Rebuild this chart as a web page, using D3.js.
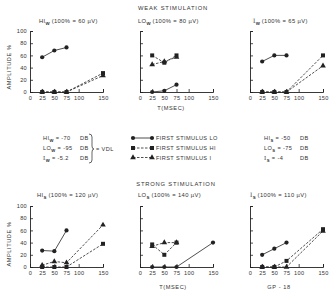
<!DOCTYPE html>
<html>
<head>
<meta charset="utf-8">
<script src="https://cdn.jsdelivr.net/npm/d3@7"></script>
<style>
  body { margin: 0; background: #fff; }
  text { font-family: "Liberation Sans", Arial, sans-serif; fill: #333; }
</style>
</head>
<body>
<div id="chart"></div>
<script>
// times (msec) at which the second stimulus was given
const times = [25, 50, 75, 150];
const xTicks = [0, 25, 50, 75, 100, 150];
const yTicks = [0, 20, 40, 60, 80, 100];

// amplitude % per panel; lo = first stimulus LO, hi = first stimulus HI, iv = first stimulus I
const hiW_lo = [57, 68, 73, null];
const hiW_hi = [0, 0, 0, 31];
const hiW_iv = [0, 0, 0, 27];

const loW_lo = [0, 2, 12, null];
const loW_hi = [60, 48, 60, null];
const loW_iv = [45, 50, 57, null];

const iW_lo = [50, 60, 60, null];
const iW_hi = [0, 0, 0, 60];
const iW_iv = [0, 0, 0, 43];

const hiS_lo = [27, 26, 60, null];
const hiS_hi = [0, 0, 0, 38];
const hiS_iv = [3, 9, 7, 69];

const loS_lo = [0, 0, 0, 40];
const loS_hi = [37, 20, 40, null];
const loS_iv = [34, 40, 40, null];

const iS_lo = [20, 30, 40, null];
const iS_hi = [0, 0, 10, 62];
const iS_iv = [0, 0, 0, 59];

const vdlNames = ["HI", "LO", "I"];
const weakDb = ["-70", "-95", "-5.2"];
const strongDb = ["-50", "-75", "-4"];
const legendLabels = ["FIRST STIMULUS LO", "FIRST STIMULUS HI", "FIRST STIMULUS I"];

const panels = [
  { name: "HI", sub: "W", full: "(100% = 60 \u00b5V)", col: 0, row: 0, tx: 39, lo: hiW_lo, hi: hiW_hi, iv: hiW_iv, yLab: true },
  { name: "LO", sub: "W", full: "(100% = 80 \u00b5V)", col: 1, row: 0, tx: 138, lo: loW_lo, hi: loW_hi, iv: loW_iv },
  { name: "I", sub: "W", full: "(100% = 65 \u00b5V)", col: 2, row: 0, tx: 253, lo: iW_lo, hi: iW_hi, iv: iW_iv },
  { name: "HI", sub: "S", full: "(100% = 120 \u00b5V)", col: 0, row: 1, tx: 37, lo: hiS_lo, hi: hiS_hi, iv: hiS_iv, yLab: true },
  { name: "LO", sub: "S", full: "(100% = 140 \u00b5V)", col: 1, row: 1, tx: 138, lo: loS_lo, hi: loS_hi, iv: loS_iv },
  { name: "I", sub: "S", full: "(100% = 110 \u00b5V)", col: 2, row: 1, tx: 250, lo: iS_lo, hi: iS_hi, iv: iS_iv }
];

const W = 334, H = 293;
const colX = [30, 140, 250];
const rowBase = [92, 267];
const plotW = 73, plotH = 61;
const ink = "#222";

const svg = d3.select("#chart").append("svg")
  .attr("width", W)
  .attr("height", H);

const x = d3.scaleLinear().domain([0, 150]).range([0, plotW]);
const y = d3.scaleLinear().domain([0, 100]).range([plotH, 0]);

function marker(g, kind, px, py) {
  if (kind === "lo") {
    g.append("circle").attr("cx", px).attr("cy", py).attr("r", 2.1).attr("fill", ink);
  } else if (kind === "hi") {
    g.append("rect").attr("x", px - 2).attr("y", py - 2).attr("width", 4).attr("height", 4).attr("fill", ink);
  } else {
    g.append("path").attr("d", d3.symbol(d3.symbolTriangle, 14)()).attr("transform", `translate(${px},${py})`).attr("fill", ink);
  }
}

// the "I" of the original is a serif capital
function nameSpan(t, n) {
  const s = t.append("tspan").text(n);
  if (n === "I") s.attr("font-family", "DejaVu Serif, serif");
  return s;
}

panels.forEach(p => {
  const g = svg.append("g")
    .attr("transform", `translate(${colX[p.col]},${rowBase[p.row] - plotH})`);

  const ax = g.append("g")
    .attr("transform", `translate(0,${plotH})`)
    .call(d3.axisBottom(x).tickValues(xTicks).tickSize(-3).tickPadding(4));
  const ay = g.append("g")
    .call(d3.axisLeft(y).tickValues(yTicks).tickSize(-3).tickPadding(3)
      .tickFormat(p.yLab ? d3.format("d") : ""));
  [ax, ay].forEach(a => {
    a.select(".domain").attr("stroke", ink).attr("stroke-width", 0.9);
    a.selectAll(".tick line").attr("stroke", ink).attr("stroke-width", 0.8);
    a.selectAll("text").attr("font-size", 5.6).attr("fill", "#333")
      .attr("font-family", "Liberation Sans, Arial, sans-serif").attr("letter-spacing", 0.3);
  });
  ax.selectAll(".tick").filter(d => d === 0).select("line").remove();

  const series = [
    { key: "lo", vals: p.lo, dash: null },
    { key: "hi", vals: p.hi, dash: "2.5,1.5" },
    { key: "iv", vals: p.iv, dash: "2.5,1.5" }
  ];
  const line = d3.line()
    .defined(d => d.v !== null)
    .x(d => x(d.t))
    .y(d => y(d.v));

  series.forEach(s => {
    const pts = times.map((t, i) => ({ t: t, v: s.vals[i] }));
    g.append("path")
      .attr("d", line(pts))
      .attr("fill", "none")
      .attr("stroke", ink)
      .attr("stroke-width", 0.8)
      .attr("stroke-dasharray", s.dash);
    pts.filter(d => d.v !== null).forEach(d => marker(g, s.key, x(d.t), y(d.v)));
  });

  // panel title with subscript
  const ty = rowBase[p.row] - plotH - (p.row === 0 ? 8 : 9);
  const t = svg.append("text")
    .attr("x", p.tx).attr("y", ty)
    .attr("font-size", 5.8).attr("letter-spacing", 0.4);
  nameSpan(t, p.name);
  t.append("tspan").attr("dy", 2.2).attr("font-size", 4.4).attr("font-weight", "bold").text(p.sub);
  t.append("tspan").attr("dy", -2.2).attr("dx", 1.5).text(p.full);
});

// section headings
function label(txt, px, py, size, spacing, anchor) {
  return svg.append("text")
    .attr("x", px).attr("y", py)
    .attr("font-size", size)
    .attr("letter-spacing", spacing)
    .attr("text-anchor", anchor || "start")
    .text(txt);
}
label("WEAK STIMULATION", 173, 10, 5.8, 0.8, "middle");
label("STRONG STIMULATION", 176, 186, 5.8, 0.8, "middle");
label("T(MSEC)", 171, 110, 5.6, 0.6, "middle");
label("T(MSEC)", 173, 289, 5.6, 0.6, "middle");
label("GP - 18", 279, 289, 5.6, 0.6, "middle");

[67, 244].forEach(cy => {
  svg.append("text")
    .attr("transform", `translate(11,${cy}) rotate(-90)`)
    .attr("text-anchor", "middle")
    .attr("font-size", 5.6)
    .attr("letter-spacing", 0.6)
    .text("AMPLITUDE %");
});

// threshold (VDL) lists
const rowsY = [140, 150, 159.5];
vdlNames.forEach((n, i) => {
  const tl = svg.append("text").attr("x", 43).attr("y", rowsY[i]).attr("font-size", 5.6).attr("letter-spacing", 0.4);
  nameSpan(tl, n);
  tl.append("tspan").attr("dy", 2.2).attr("font-size", 4.2).attr("font-weight", "bold").text("W");
  tl.append("tspan").attr("dy", -2.2).text(" = " + weakDb[i]);
  label("DB", 80, rowsY[i], 5.6, 0.4);

  const tr = svg.append("text").attr("x", 264).attr("y", rowsY[i]).attr("font-size", 5.6).attr("letter-spacing", 0.4);
  nameSpan(tr, n);
  tr.append("tspan").attr("dy", 2.2).attr("font-size", 4.2).attr("font-weight", "bold").text("S");
  tr.append("tspan").attr("dy", -2.2).text(" = " + strongDb[i]);
  label("DB", 300, rowsY[i], 5.6, 0.4);
});

svg.append("path")
  .attr("d", "M89,134 Q92,134 92,137 L92,146 Q92,149 94,149 Q92,149 92,152 L92,160 Q92,163 89,163")
  .attr("fill", "none").attr("stroke", ink).attr("stroke-width", 0.7);
label("= VDL", 96, 151, 5.6, 0.4);

// legend
const legKeys = ["lo", "hi", "iv"];
legKeys.forEach((k, i) => {
  const ly = rowsY[i] - 2;
  const lg = svg.append("g");
  lg.append("line")
    .attr("x1", 133).attr("x2", 152).attr("y1", ly).attr("y2", ly)
    .attr("stroke", ink).attr("stroke-width", 0.8)
    .attr("stroke-dasharray", k === "lo" ? null : "2.5,1.5");
  marker(lg, k, 133, ly);
  marker(lg, k, 152, ly);
  label(legendLabels[i], 156, rowsY[i], 5.6, 0.4);
});
</script>
</body>
</html>
